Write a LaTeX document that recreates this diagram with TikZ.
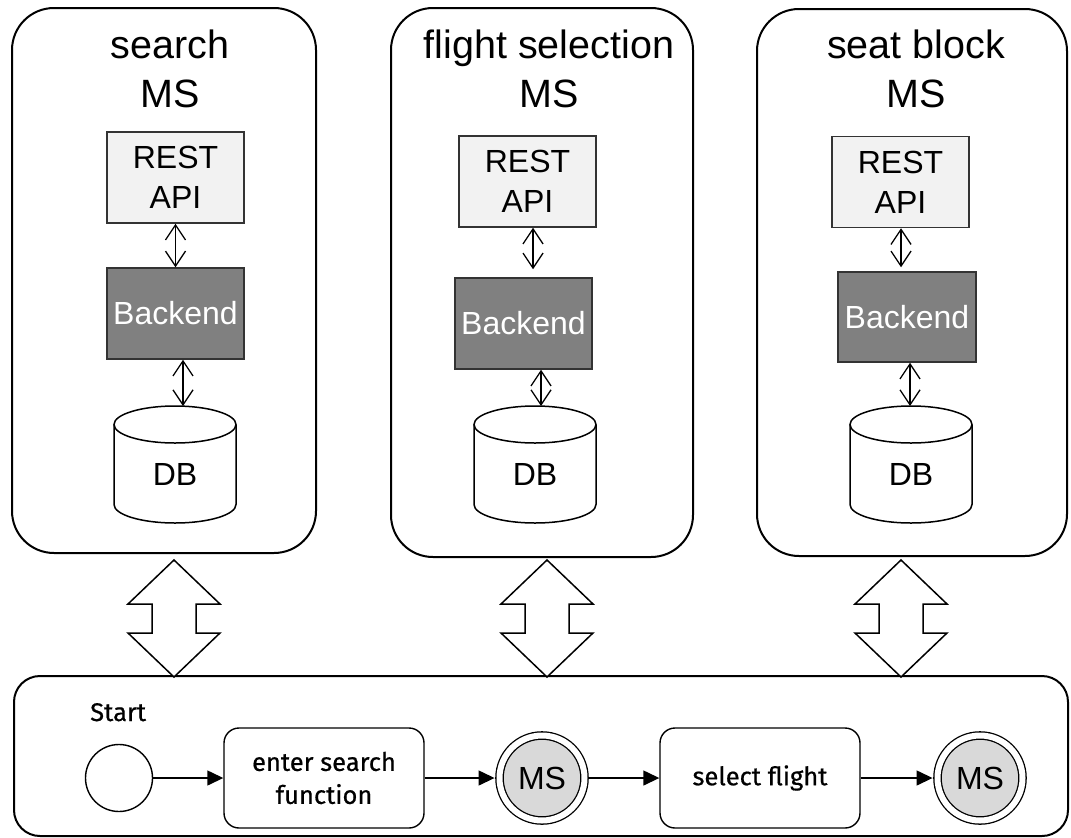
\documentclass[tikz,border=0pt]{standalone}
\usepackage{fontspec}
\setmainfont{Liberation Sans}
\newfontfamily\bpmnfont[BoldFont=Fira Sans, BoldFeatures={FakeBold=0.6}]{Fira Sans}
\usetikzlibrary{arrows.meta}
\definecolor{restfill}{HTML}{F2F2F2}
\definecolor{backfill}{HTML}{808080}
\definecolor{boxedge}{HTML}{333333}
\definecolor{eventfill}{HTML}{D9D9D9}

% database cylinder: #1 = centre x, body from y=406 to y=523
\newcommand\dbcylinder[1]{%
  \fill[white] (#1-61,-424.5) -- (#1-61,-504.5)
    arc[start angle=180,end angle=360,x radius=61,y radius=18.5] -- (#1+61,-424.5) -- cycle;
  \draw[dbline] (#1-61,-424.5) -- (#1-61,-504.5)
    arc[start angle=180,end angle=360,x radius=61,y radius=18.5] -- (#1+61,-424.5);
  \draw[dbline, fill=white] (#1,-424.5) ellipse[x radius=61,y radius=18.5];
}
% block double arrow hanging from its upper tip
\newcommand\blockarrow[1]{%
  \draw[bigarrow] (#1) -- ++(46,-44) -- ++(-24,0) -- ++(0,-29) -- ++(24,0)
    -- ++(-46,-44) -- ++(-46,44) -- ++(24,0) -- ++(0,29) -- ++(-24,0) -- cycle;
}

\begin{document}
\begin{tikzpicture}[x=1pt,y=1pt,
  msbox/.style={draw, line width=2pt, rounded corners=42pt, inner sep=0pt},
  title/.style={anchor=south, align=center, inner sep=0pt, font=\fontsize{39.5}{49}\selectfont},
  restbox/.style={draw=boxedge, fill=restfill, line width=1.5pt, minimum width=137pt,
    minimum height=91pt, inner sep=0pt, align=center, font=\fontsize{32}{40}\selectfont},
  backbox/.style={draw=boxedge, fill=backfill, text=white, line width=1.5pt, minimum width=137pt,
    minimum height=91pt, inner sep=0pt, font=\fontsize{32}{40}\selectfont},
  link/.style={line width=1.3pt, {Straight Barb[length=15pt,width=20pt]}-{Straight Barb[length=15pt,width=20pt]}},
  dbline/.style={line width=1.5pt},
  dblabel/.style={font=\fontsize{32}{40}\selectfont, inner sep=0pt},
  bigarrow/.style={draw, line width=1.5pt, fill=white, line join=miter},
  panel/.style={draw, line width=2pt, rounded corners=26pt, minimum width=1054pt, minimum height=160pt},
  task/.style={draw, line width=1.4pt, rounded corners=15pt, minimum width=200pt, minimum height=100pt,
    align=center, font=\bpmnfont\bfseries\fontsize{25.5}{33}\selectfont},
  startev/.style={circle, draw, line width=1.4pt, minimum size=67pt, inner sep=0pt},
  msev/.style={circle, draw, line width=1.3pt, double=white, double distance=6pt, fill=eventfill,
    minimum size=85pt, inner sep=0pt, font=\fontsize{32}{32}\selectfont},
  flow/.style={line width=1.4pt, -{Triangle[length=16pt,width=15pt]}},
]
\useasboundingbox (0,0) rectangle (1071,-838);

% microservice containers
\node[msbox, minimum width=304pt, minimum height=545pt] (svc1) at (164,-280.5) {};
\node[msbox, minimum width=302pt, minimum height=549pt] (svc2) at (542,-282.5) {};
\node[msbox, minimum width=310pt, minimum height=547pt] (svc3) at (912,-282.5) {};

\node[title] (t1) at (170,-108) {search\\MS};
\node[title] (t2) at (549,-108) {flight selection\\MS};
\node[title] (t3) at (916,-108) {seat block\\MS};

% REST API layer
\node[restbox] (rest1) at (175.5,-177.5) {REST\\API};
\node[restbox] (rest2) at (527.5,-181.5) {REST\\API};
\node[restbox] (rest3) at (900.5,-182) {REST\\API};

% backend layer
\node[backbox] (back1) at (175.5,-313.5) {Backend};
\node[backbox] (back2) at (523.5,-323.5) {Backend};
\node[backbox, minimum width=138pt, minimum height=90pt] (back3) at (907,-317) {Backend};

% databases
\dbcylinder{175}
\dbcylinder{535}
\dbcylinder{911}
\coordinate (db1top) at (183,-406);
\coordinate (db2top) at (541,-406);
\coordinate (db3top) at (910,-406);
\node[dblabel] (db1) at (175,-474) {DB};
\node[dblabel] (db2) at (535,-474.5) {DB};
\node[dblabel] (db3) at (911,-474.5) {DB};

% internal links
\draw[link] (rest1.south) -- (back1.north);
\draw[link] ([xshift=5.5pt]rest2.south) -- ([xshift=9.5pt,yshift=8pt]back2.north);
\draw[link] ([xshift=0.5pt]rest3.south) -- ([xshift=-6pt,yshift=4pt]back3.north);
\draw[link] ([xshift=7.5pt]back1.south) -- (db1top);
\draw[link] ([xshift=17.5pt]back2.south) -- (db2top);
\draw[link] ([xshift=3pt]back3.south) -- (db3top);

% process panel
\node[panel] (proc) at (541,-756) {};

% block arrows between services and process
\coordinate (tip1) at (174,-560);
\coordinate (tip2) at (547,-560);
\coordinate (tip3) at (901,-560);
\blockarrow{tip1}
\blockarrow{tip2}
\blockarrow{tip3}

% process flow
\node[anchor=base west, inner sep=0pt, font=\bpmnfont\bfseries\fontsize{25.5}{30}\selectfont] (startlbl) at (90,-721) {Start};
\node[startev] (start) at (119,-778) {};
\node[task] (task1) at (324,-778) {enter search\\function};
\node[msev] (ev1) at (542,-778) {MS};
\node[task] (task2) at (760,-778) {select flight};
\node[msev] (ev2) at (980,-778) {MS};

\draw[flow] (start) -- (task1);
\draw[flow, shorten >=4.3pt] (task1) -- (ev1);
\draw[flow, shorten <=4.3pt] (ev1) -- (task2);
\draw[flow, shorten >=4.3pt] (task2) -- (ev2);
\end{tikzpicture}
\end{document}
